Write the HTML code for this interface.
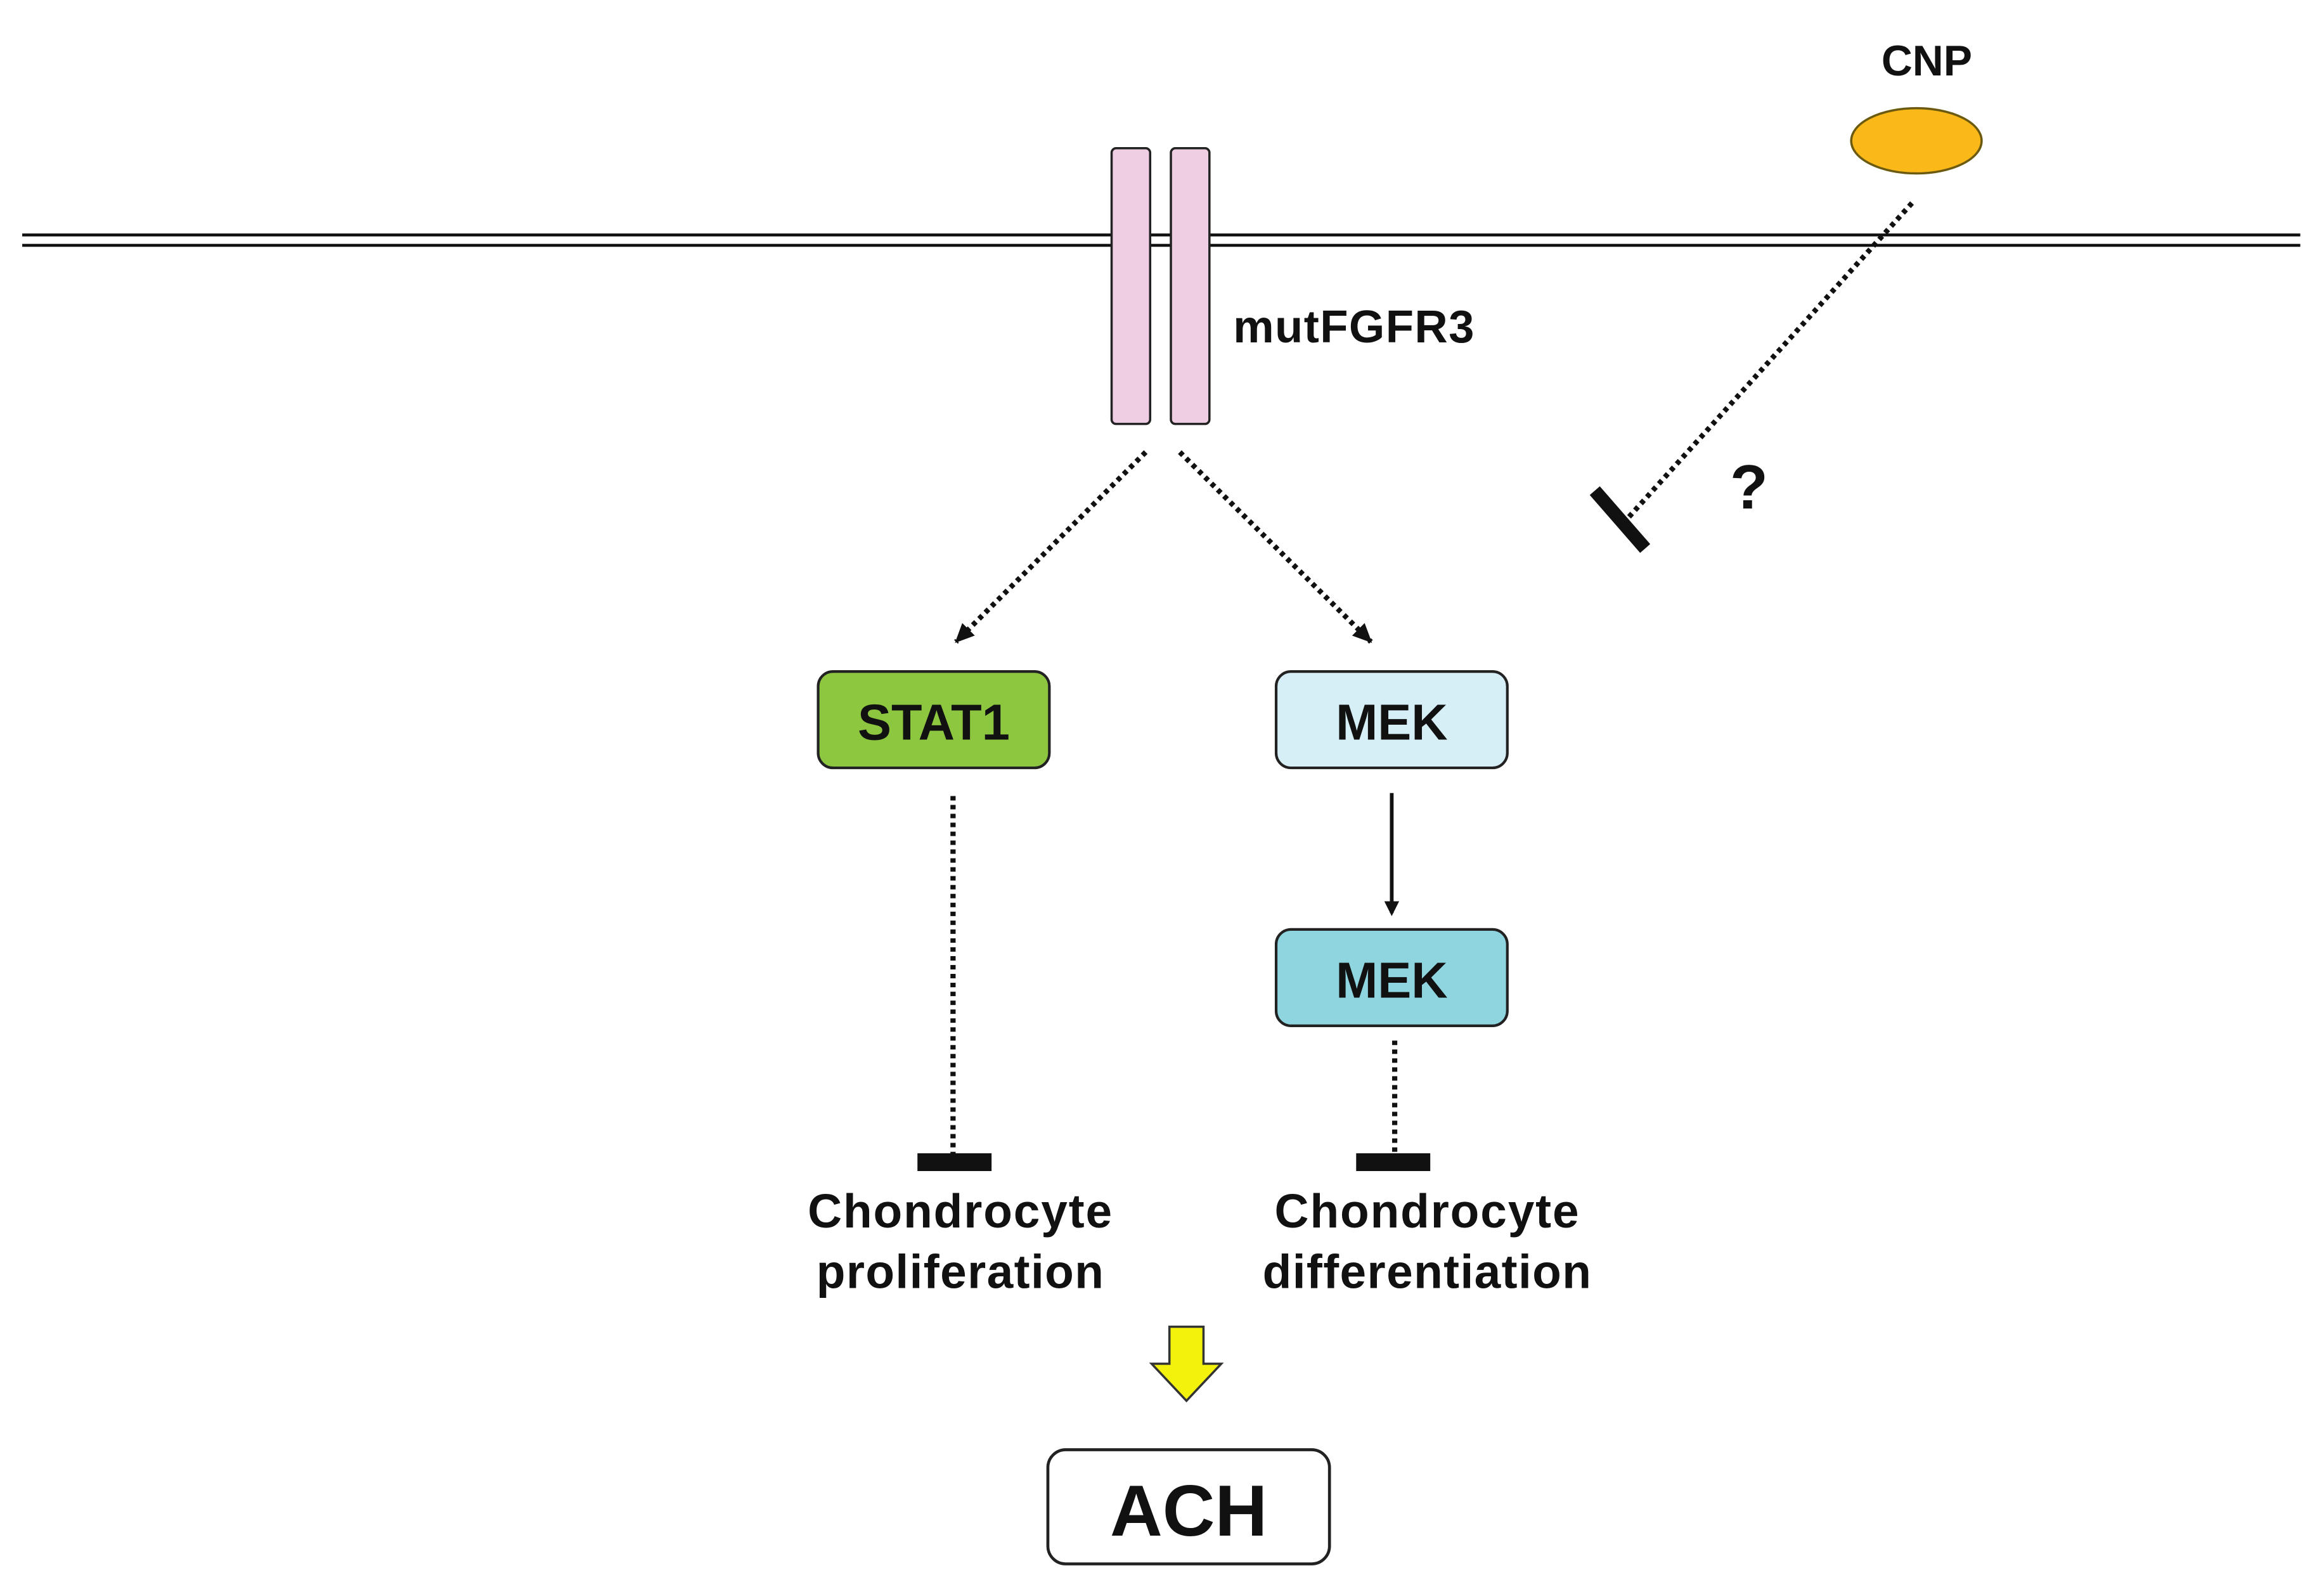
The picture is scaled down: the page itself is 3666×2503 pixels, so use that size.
<!DOCTYPE html>
<html><head><meta charset="utf-8"><style>
html,body{margin:0;padding:0;background:#fff;}
svg{display:block;}
text{font-family:"Liberation Sans",Arial,sans-serif;font-weight:bold;fill:#111;}
</style></head><body>
<svg width="3666" height="2503" viewBox="0 0 1568 1070.6" preserveAspectRatio="none" xmlns="http://www.w3.org/2000/svg">
<defs>
<marker id="ah" markerWidth="10" markerHeight="10" refX="8" refY="5" orient="auto" markerUnits="userSpaceOnUse">
<path d="M0,0 L10,5 L0,10 z" fill="#111"/>
</marker>
<marker id="ah2" markerWidth="14" markerHeight="14" refX="12" refY="7" orient="auto" markerUnits="userSpaceOnUse">
<path d="M0,1 L13,7 L0,13 z" fill="#111"/>
</marker>
</defs>
<rect width="1568" height="1071" fill="#fff"/>
<line x1="15" y1="158.5" x2="1552" y2="158.5" stroke="#111" stroke-width="2"/>
<line x1="15" y1="165.5" x2="1552" y2="165.5" stroke="#111" stroke-width="2"/>
<rect x="750" y="100" width="26" height="186" rx="3" fill="#efcde2" stroke="#222" stroke-width="1.5"/>
<rect x="790" y="100" width="26" height="186" rx="3" fill="#efcde2" stroke="#222" stroke-width="1.5"/>
<text x="832" y="231" font-size="31" letter-spacing="0.6">mutFGFR3</text>
<text x="1300" y="51" font-size="29" text-anchor="middle">CNP</text>
<ellipse cx="1293" cy="95" rx="44" ry="22" fill="#fbb919" stroke="#6b5a10" stroke-width="1.5"/>
<line x1="1290" y1="137" x2="1097" y2="351" stroke="#111" stroke-width="3.5" stroke-dasharray="3,3"/>
<line x1="1076" y1="331" x2="1110" y2="370" stroke="#111" stroke-width="9"/>
<text x="1180" y="343" font-size="42" text-anchor="middle">?</text>
<line x1="773" y1="305" x2="645" y2="433" stroke="#111" stroke-width="3.5" stroke-dasharray="3,3" marker-end="url(#ah2)"/>
<line x1="796" y1="305" x2="925" y2="433" stroke="#111" stroke-width="3.5" stroke-dasharray="3,3" marker-end="url(#ah2)"/>
<rect x="552" y="453" width="156" height="65" rx="10" fill="#8dc63f" stroke="#222" stroke-width="1.8"/>
<text x="630" y="499" font-size="34" text-anchor="middle">STAT1</text>
<rect x="861" y="453" width="156" height="65" rx="10" fill="#d6eef5" stroke="#222" stroke-width="1.8"/>
<text x="939" y="499" font-size="34" text-anchor="middle">MEK</text>
<line x1="939" y1="535" x2="939" y2="616" stroke="#111" stroke-width="2.5" marker-end="url(#ah)"/>
<rect x="861" y="627" width="156" height="65" rx="10" fill="#8fd5e0" stroke="#222" stroke-width="1.8"/>
<text x="939" y="673" font-size="34" text-anchor="middle">MEK</text>
<line x1="643" y1="537" x2="643" y2="779" stroke="#111" stroke-width="3.5" stroke-dasharray="3,3"/>
<rect x="619" y="778" width="50" height="12" fill="#111"/>
<line x1="941" y1="702" x2="941" y2="779" stroke="#111" stroke-width="3.5" stroke-dasharray="3,3"/>
<rect x="915" y="778" width="50" height="12" fill="#111"/>
<text x="648" y="828" font-size="32" text-anchor="middle" letter-spacing="0.8">Chondrocyte</text>
<text x="648" y="869" font-size="32" text-anchor="middle" letter-spacing="0.6">proliferation</text>
<text x="963" y="828" font-size="32" text-anchor="middle" letter-spacing="0.8">Chondrocyte</text>
<text x="963" y="869" font-size="32" text-anchor="middle" letter-spacing="0.6">differentiation</text>
<path d="M789,895 L812,895 L812,920 L824,920 L800.5,945 L777,920 L789,920 z" fill="#f2f20c" stroke="#333" stroke-width="1.5"/>
<rect x="707" y="978" width="190" height="77" rx="12" fill="#fff" stroke="#222" stroke-width="2"/>
<text x="802" y="1036" font-size="49" text-anchor="middle">ACH</text>
</svg>
</body></html>
